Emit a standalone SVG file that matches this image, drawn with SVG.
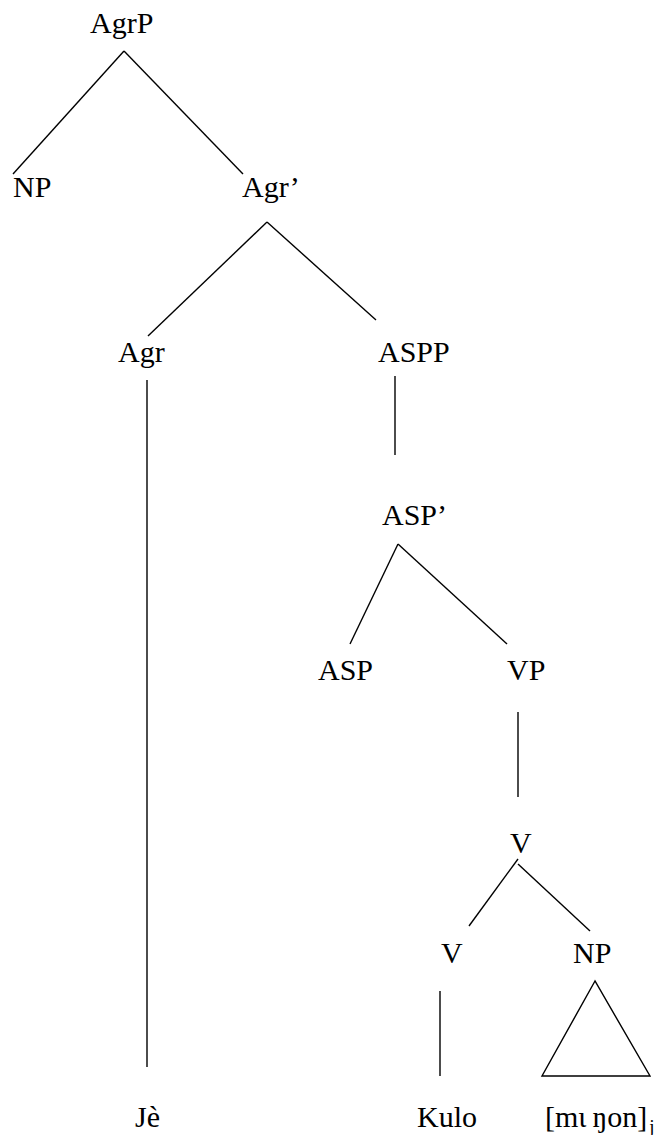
<svg xmlns="http://www.w3.org/2000/svg" width="670" height="1135" viewBox="0 0 670 1135">
  <style>
    text { font-family: 'Liberation Serif', 'Times New Roman', serif; fill: #000; }
    .lbl { font-size: 30px; }
    .sub { font-size: 19px; }
    .edge { stroke: #000; stroke-width: 1.4; fill: none; }
  </style>
  <rect width="670" height="1135" fill="#fff"/>

  <!-- tree branches -->
  <g id="connectors">
    <line class="edge" x1="124" y1="51" x2="13" y2="174"/>
    <line class="edge" x1="124" y1="51" x2="243" y2="174"/>
    <line class="edge" x1="267" y1="222" x2="148" y2="336"/>
    <line class="edge" x1="267" y1="222" x2="376" y2="320"/>
    <line class="edge" x1="147" y1="380" x2="147" y2="1067"/>
    <line class="edge" x1="395" y1="376" x2="395" y2="455"/>
    <line class="edge" x1="398" y1="544" x2="350" y2="644"/>
    <line class="edge" x1="398" y1="544" x2="507" y2="644"/>
    <line class="edge" x1="518" y1="712" x2="518" y2="797"/>
    <line class="edge" x1="518" y1="859" x2="469" y2="926"/>
    <line class="edge" x1="518" y1="864" x2="590" y2="931"/>
    <line class="edge" x1="440" y1="991" x2="440" y2="1076"/>
    <polygon class="edge" points="595,981 542,1076 650,1076"/>
  </g>

  <!-- nodes -->
  <g id="n-agrp"><text class="lbl" x="90" y="33">AgrP</text></g>
  <g id="n-np-spec"><text class="lbl" x="13" y="197">NP</text></g>
  <g id="n-agr-bar"><text class="lbl" x="242" y="197">Agr’</text></g>
  <g id="n-agr"><text class="lbl" x="118" y="362">Agr</text></g>
  <g id="n-aspp"><text class="lbl" x="378" y="362">ASPP</text></g>
  <g id="n-asp-bar"><text class="lbl" x="382" y="525">ASP’</text></g>
  <g id="n-asp"><text class="lbl" x="318" y="680">ASP</text></g>
  <g id="n-vp"><text class="lbl" x="507" y="680">VP</text></g>
  <g id="n-v-bar"><text class="lbl" x="510" y="853">V</text></g>
  <g id="n-v"><text class="lbl" x="441" y="963">V</text></g>
  <g id="n-np-obj"><text class="lbl" x="573" y="963">NP</text></g>
  <g id="n-je"><text class="lbl" x="135" y="1127">Jè</text></g>
  <g id="n-kulo"><text class="lbl" x="417" y="1127">Kulo</text></g>
  <g id="n-obj-words"><text class="lbl" x="545" y="1127">[mɩ<tspan dx="6">ŋon]</tspan><tspan class="sub" dx="2" dy="6">j</tspan></text></g>
</svg>
